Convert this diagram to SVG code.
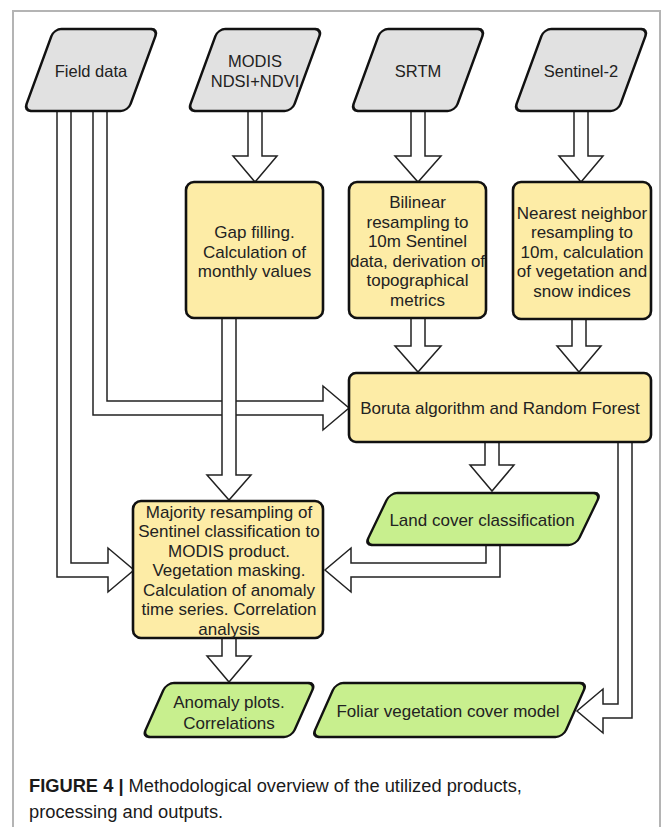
<svg xmlns="http://www.w3.org/2000/svg" width="663" height="827" viewBox="0 0 663 827">
<style>
.frame{fill:none;stroke:#b4b4b4;stroke-width:2}
.arr{fill:#fff;stroke:#222;stroke-width:1.5;stroke-linejoin:miter}
.in{fill:#e1e1e1;stroke:#111;stroke-width:2.6}
.box{fill:#fdeca6;stroke:#111;stroke-width:2.6}
.out{fill:#c8ef8e;stroke:#111;stroke-width:2.6}
text{font-family:"Liberation Sans",Arial,sans-serif;fill:#222;text-anchor:middle}
.t16{font-size:16.5px}
.t17{font-size:17px}
.cap{font-size:18.3px;text-anchor:start;fill:#1a1a1a}
</style>
<path class="frame" d="M13,827 V11 H660 V827"/>
<g id="connectors">
<polygon class="arr" points="57,105 71,105 71,563 108,563 108,548 134,570 108,592 108,577 57,577"/>
<polygon class="arr" points="93,105 107,105 107,401 323,401 323,386 349,408 323,430 323,415 93,415"/>
<polygon class="arr" points="222,312 236,312 236,475 251,475 229,500 207,475 222,475"/>
<polygon class="arr" points="486,540 500,540 500,577 351,577 351,592 325,570 351,548 351,563 486,563"/>
<polygon class="arr" points="618,436 632,436 632,718 603,718 603,733 577,711 603,689 603,704 618,704"/>
<polygon class="arr" points="248,105 262,105 262,156 277,156 255,182 233,156 248,156"/>
<polygon class="arr" points="411,105 425,105 425,156 441,156 418,182 395,156 411,156"/>
<polygon class="arr" points="574,105 588,105 588,156 603,156 581,182 559,156 574,156"/>
<polygon class="arr" points="411,312 425,312 425,346 441,346 418,372 395,346 411,346"/>
<polygon class="arr" points="572,312 586,312 586,346 601,346 579,372 557,346 572,346"/>
<polygon class="arr" points="485,436 499,436 499,465 514,465 492,491 470,465 485,465"/>
<polygon class="arr" points="222,632 236,632 236,656 251,656 229,682 207,656 222,656"/>
</g>
<g id="field">
<rect class="in" x="-52" y="-41" width="104" height="82" rx="7" transform="translate(91,70) skewX(-20.1)"/>
<text class="t16" x="91" y="76.5">Field data</text>
</g>
<g id="modis">
<rect class="in" x="-52" y="-41" width="104" height="82" rx="7" transform="translate(255,70) skewX(-20.1)"/>
<text class="t16" x="255" y="67">MODIS</text>
<text class="t16" x="255" y="87">NDSI+NDVI</text>
</g>
<g id="srtm">
<rect class="in" x="-52" y="-41" width="104" height="82" rx="7" transform="translate(418,70) skewX(-20.1)"/>
<text class="t16" x="418" y="76.5">SRTM</text>
</g>
<g id="sentinel2">
<rect class="in" x="-52" y="-41" width="104" height="82" rx="7" transform="translate(581,70) skewX(-20.1)"/>
<text class="t16" x="581" y="76.5">Sentinel-2</text>
</g>
<g id="gapfilling">
<rect class="box" x="186" y="182" width="137" height="136" rx="8"/>
<text class="t17" x="254.5" y="238">Gap filling.</text>
<text class="t17" x="254.5" y="257.5">Calculation of</text>
<text class="t17" x="254.5" y="277">monthly values</text>
</g>
<g id="bilinear">
<rect class="box" x="349" y="182" width="137" height="136" rx="8"/>
<text class="t17" x="417.5" y="208">Bilinear</text>
<text class="t17" x="417.5" y="227.6">resampling to</text>
<text class="t17" x="417.5" y="247.2">10m Sentinel</text>
<text class="t17" x="417.5" y="266.8">data, derivation of</text>
<text class="t17" x="417.5" y="286.4">topographical</text>
<text class="t17" x="417.5" y="306">metrics</text>
</g>
<g id="nearest">
<rect class="box" x="513" y="182" width="138" height="137" rx="8"/>
<text class="t17" x="582" y="218.7">Nearest neighbor</text>
<text class="t17" x="582" y="238.2">resampling to</text>
<text class="t17" x="582" y="257.7">10m, calculation</text>
<text class="t17" x="582" y="277.2">of vegetation and</text>
<text class="t17" x="582" y="296.7">snow indices</text>
</g>
<g id="boruta">
<rect class="box" x="349" y="373" width="302" height="69" rx="7"/>
<text class="t17" x="500" y="414">Boruta algorithm and Random Forest</text>
</g>
<g id="landcover">
<rect class="out" x="-105.5" y="-26" width="211" height="52" rx="7" transform="translate(483,519) skewX(-25.7)"/>
<text class="t17" x="482" y="525.5">Land cover classification</text>
</g>
<g id="majority">
<rect class="box" x="133" y="501" width="190" height="137" rx="8"/>
<text class="t17" x="229" y="517.7">Majority resampling of</text>
<text class="t17" x="229" y="537.2">Sentinel classification to</text>
<text class="t17" x="229" y="556.7">MODIS product.</text>
<text class="t17" x="229" y="576.2">Vegetation masking.</text>
<text class="t17" x="229" y="595.7">Calculation of anomaly</text>
<text class="t17" x="229" y="615.2">time series. Correlation</text>
<text class="t17" x="229" y="634.7">analysis</text>
</g>
<g id="anomaly">
<rect class="out" x="-74.5" y="-27" width="149" height="54" rx="7" transform="translate(229,710) skewX(-24)"/>
<text class="t17" x="229" y="708">Anomaly plots.</text>
<text class="t17" x="229" y="728.5">Correlations</text>
</g>
<g id="foliar">
<rect class="out" x="-125.5" y="-27" width="251" height="54" rx="7" transform="translate(449.5,710) skewX(-24)"/>
<text class="t17" x="448" y="717">Foliar vegetation cover model</text>
</g>
<g id="caption">
<text class="cap" x="29" y="792"><tspan font-weight="bold">FIGURE 4</tspan> <tspan font-weight="bold">|</tspan> Methodological overview of the utilized products,</text>
<text class="cap" x="29" y="818">processing and outputs.</text>
</g>
</svg>
